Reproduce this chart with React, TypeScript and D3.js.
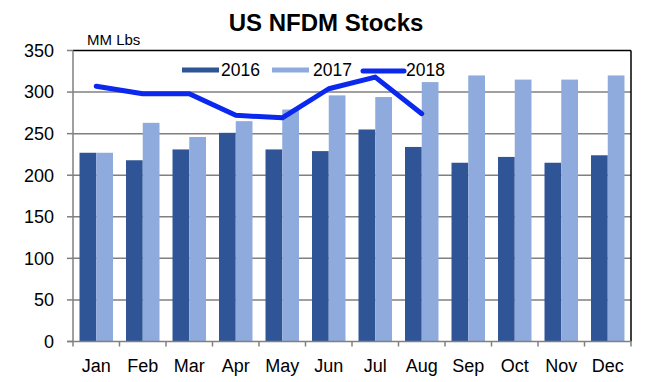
import React from "react";
import * as d3 from "d3";

const months = ["Jan", "Feb", "Mar", "Apr", "May", "Jun", "Jul", "Aug", "Sep", "Oct", "Nov", "Dec"];
const s2016 = [227, 218, 231, 251, 231, 229, 255, 234, 215, 222, 215, 224];
const s2017 = [227, 263, 246, 265, 279, 296, 294, 312, 320, 315, 315, 320];
const s2018 = [307, 298, 298, 272, 269, 304, 318, 274];
const yTicks = [0, 50, 100, 150, 200, 250, 300, 350];
const seriesNames = ["2016", "2017"];

const W = 656, H = 382;
const left = 73, right = 631, top = 50.5, bottom = 341.5;
const C16 = "#2F5597";
const C17 = "#8FAADC";
const C18 = "#0A28EE";
const FONT = "'Liberation Sans', Arial, sans-serif";

export default function App() {
  const x0 = d3.scaleBand<string>().domain(months).range([left, right]).padding(0);
  const bw = x0.bandwidth();
  const groupW = bw * 0.72;
  const x1 = d3.scaleBand<string>().domain(seriesNames).range([(bw - groupW) / 2, (bw + groupW) / 2]).padding(0);
  const y = d3.scaleLinear().domain([0, 350]).range([bottom, top]);
  const line = d3.line<number>()
    .x((_, i) => (x0(months[i]) as number) + bw / 2)
    .y((d) => y(d))
    .curve(d3.curveLinear);

  return (
    <svg width={W} height={H} style={{ position: "absolute", left: 0, top: 0, background: "#fff" }} fontFamily={FONT}>
      <rect x={0} y={0} width={W} height={H} fill="#fff" />
      <text x={326} y={30.5} textAnchor="middle" fontSize={24} fontWeight="bold" fill="#000">US NFDM Stocks</text>
      <text x={87} y={45} fontSize={15} fill="#000">MM Lbs</text>
      {/* gridlines */}
      {yTicks.filter((t) => t > 0 && t < 350).map((t) => (
        <line key={t} x1={left} x2={right} y1={y(t)} y2={y(t)} stroke="#808080" strokeWidth={1.5} />
      ))}
      {/* bars */}
      {months.map((m, i) => (
        <g key={m}>
          <rect x={(x0(m) as number) + (x1("2016") as number)} y={y(s2016[i])} width={x1.bandwidth()} height={y(0) - y(s2016[i])} fill={C16} />
          <rect x={(x0(m) as number) + (x1("2017") as number)} y={y(s2017[i])} width={x1.bandwidth()} height={y(0) - y(s2017[i])} fill={C17} />
        </g>
      ))}
      {/* borders */}
      <line x1={left} x2={right} y1={top} y2={top} stroke="#000" strokeWidth={1.5} />
      <line x1={right} x2={right} y1={top} y2={bottom} stroke="#000" strokeWidth={1.5} />
      <line x1={left} x2={left} y1={top} y2={bottom} stroke="#808080" strokeWidth={1.5} />
      <line x1={left - 6} x2={right} y1={bottom} y2={bottom} stroke="#808080" strokeWidth={1.5} />
      {/* y ticks */}
      {yTicks.map((t) => (
        <g key={t}>
          <line x1={left - 6} x2={left} y1={y(t)} y2={y(t)} stroke="#808080" strokeWidth={1.5} />
          <text x={54} y={y(t) + 6.3} textAnchor="end" fontSize={18} fill="#000">{t}</text>
        </g>
      ))}
      {/* x ticks */}
      {months.map((m) => (
        <line key={m} x1={x0(m) as number} x2={x0(m) as number} y1={bottom} y2={bottom + 5} stroke="#808080" strokeWidth={1.5} />
      ))}
      <line x1={right} x2={right} y1={bottom} y2={bottom + 5} stroke="#808080" strokeWidth={1.5} />
      {months.map((m) => (
        <text key={m} x={(x0(m) as number) + bw / 2} y={372} textAnchor="middle" fontSize={18} fill="#000">{m}</text>
      ))}
      {/* 2018 line */}
      <path d={line(s2018) as string} fill="none" stroke={C18} strokeWidth={5} strokeLinejoin="round" strokeLinecap="round" />
      {/* legend */}
      <rect x={182} y={67.5} width={37} height={5} fill={C16} />
      <text x={221} y={76} fontSize={17.5} fill="#000">2016</text>
      <rect x={272} y={67.5} width={37} height={5} fill={C17} />
      <text x={313} y={76} fontSize={17.5} fill="#000">2017</text>
      <line x1={363} x2={404} y1={71} y2={71} stroke={C18} strokeWidth={5} strokeLinecap="round" />
      <text x={406} y={76} fontSize={17.5} fill="#000">2018</text>
    </svg>
  );
}
